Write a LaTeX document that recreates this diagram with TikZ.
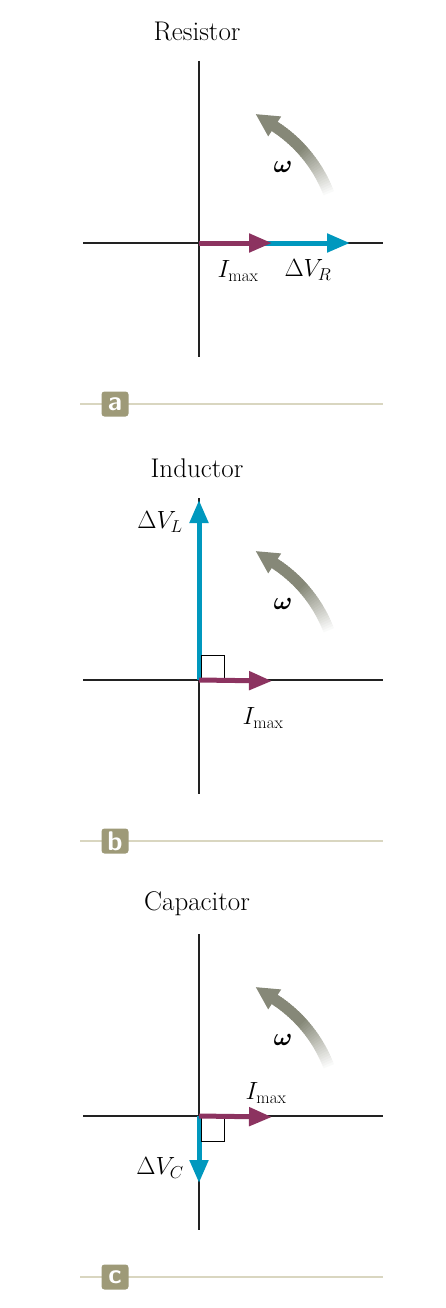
\documentclass[tikz,border=0pt]{standalone}
\usepackage{amsmath}
\usepackage{amssymb}
\usepackage{bm}
\usepackage{tikz}
\usetikzlibrary{arrows.meta, positioning, calc}
\definecolor{imaroon}{HTML}{8C3360}
\definecolor{vteal}{HTML}{0098BE}
\definecolor{omgray}{HTML}{868878}
\definecolor{rulebeige}{HTML}{D9D6C0}
\definecolor{badgeolive}{HTML}{9E9A78}
\definecolor{axisblack}{HTML}{222222}

\begin{document}
\begin{tikzpicture}[x=1pt, y=1pt,
    axis/.style={axisblack, line width=2pt},
    phasor/.style={line width=5pt, -{Triangle[length=23pt,width=18pt]}},
    title/.style={font=\fontsize{27}{30}\selectfont},
    lbl/.style={font=\fontsize{26}{28}\selectfont, inner sep=0pt},
    rulebar/.style={rulebeige, line width=2pt},
    badge/.style={fill=badgeolive, text=white, rounded corners=3pt, minimum width=27pt,
      minimum height=25pt, inner sep=0pt, font=\fontsize{27}{27}\selectfont\sffamily\bfseries},
    rightang/.style={black, line width=0.8pt}]
  \useasboundingbox (0,0) rectangle (446,-1308);
  \fill[white] (0,0) rectangle (446,-1308);

  % common frame of each panel
  \foreach \p/\ttl/\dy in {a/Resistor/0, b/Inductor/437, c/Capacitor/873}{
    \begin{scope}[shift={(0,-\dy)}]
      \coordinate (O\p) at (199,-243);
      \coordinate (L\p) at (83,-243);
      \coordinate (R\p) at (383,-243);
      \coordinate (T\p) at (199,-61);
      \coordinate (B\p) at (199,-357);
      \node[title] (title\p) at (197,-31) {\ttl};
      \draw[axis] (L\p) -- (R\p);
      \draw[axis] (T\p) -- (B\p);
      % omega arrow, fading towards its tail
      \foreach \k in {0,...,37}{
        \pgfmathsetmacro{\shade}{min(100,100*\k/22)}
        \draw[omgray!\shade!white, line width=11pt] (O\p) ++(20+\k:139) arc (20+\k:21.5+\k:139);
      }
      \draw[omgray, line width=11pt, -{Triangle[length=23pt,width=22pt]}]
        (O\p) ++(57:139) -- ++(147:23);
      \node[lbl, font=\fontsize{28}{30}\selectfont] (om\p) at (283,-167) {$\bm{\omega}$};
      % panel letter
      \coordinate (rl\p) at (80,-404);
      \coordinate (rr\p) at (383,-404);
      \draw[rulebar] (rl\p) -- (rr\p);
      \node[badge] (badge\p) at (115,-404) {\p};
    \end{scope}
  }

  % (a) resistor
  \coordinate (Ia) at (272,-243);
  \coordinate (Va) at (350,-243);
  \draw[phasor, vteal] (265,-243) -- (Va);
  \draw[phasor, imaroon] (Oa) -- (Ia);
  \node[lbl] (ia) at (238,-271) {$I_{\mathrm{max}}$};
  \node[lbl] (va) at (308,-270) {$\Delta V_R$};

  % (b) inductor
  \coordinate (Ib) at (272,-681);
  \coordinate (Vb) at (199,-500);
  \draw[phasor, vteal] (Ob) -- (Vb);
  \draw[rightang] (201,-681) |- (224,-655) -- (224,-681);
  \draw[phasor, imaroon] (Ob) -- (Ib);
  \node[lbl] (ib) at (263,-718) {$I_{\mathrm{max}}$};
  \node[lbl] (vb) at (160,-522) {$\Delta V_L$};

  % (c) capacitor
  \coordinate (Ic) at (272,-1117);
  \coordinate (Vc) at (199,-1183);
  \draw[phasor, vteal] (Oc) -- (Vc);
  \draw[rightang] (201,-1117) |- (224,-1141) -- (224,-1117);
  \draw[phasor, imaroon] (Oc) -- (Ic);
  \node[lbl] (ic) at (266,-1093) {$I_{\mathrm{max}}$};
  \node[lbl] (vc) at (160,-1168) {$\Delta V_C$};
\end{tikzpicture}
\end{document}
